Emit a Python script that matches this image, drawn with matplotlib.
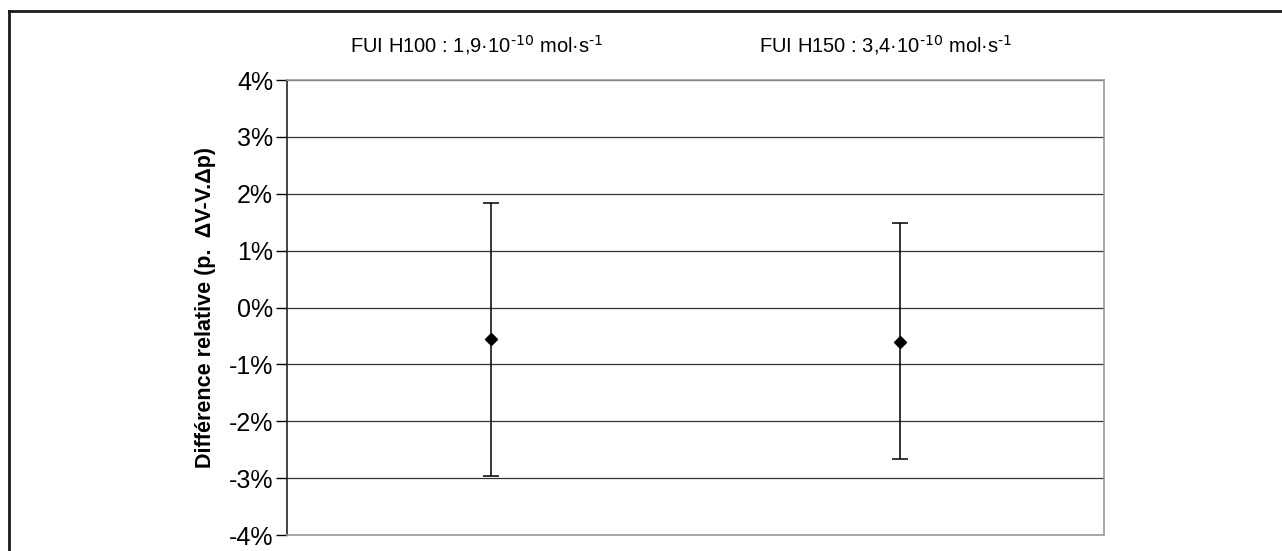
import matplotlib
matplotlib.use("Agg")
import matplotlib.pyplot as plt
from matplotlib.lines import Line2D
from matplotlib.ticker import FuncFormatter, MultipleLocator
import matplotlib.transforms as mtransforms

plt.rcParams['font.family'] = ['Liberation Sans', 'DejaVu Sans']
plt.rcParams['mathtext.default'] = 'regular'

# data (relative difference, %)
labels = [r"FUI H100 : 1,9·10$^{\text{-10}}$ mol·s$^{\text{-1}}$",
          r"FUI H150 : 3,4·10$^{\text{-10}}$ mol·s$^{\text{-1}}$"]
values = [-0.56, -0.60]
upper = [1.83, 1.48]
lower = [-2.97, -2.67]

fig = plt.figure(figsize=(12.82, 5.51), dpi=100)
ax = fig.add_axes([0.2239, 0.029, 0.861 - 0.2239, 0.8548 - 0.029])

x = list(range(len(values)))
err_lo = [v - l for v, l in zip(values, lower)]
err_hi = [u - v for v, u in zip(values, upper)]
ax.errorbar(x, values, yerr=[err_lo, err_hi], fmt='D', color='black',
            ms=6, elinewidth=1.1, capsize=6, capthick=1.1, zorder=3)

ax.set_xlim(-0.5, 1.5)
ax.set_ylim(-4, 4)
ax.yaxis.set_major_locator(MultipleLocator(1))
ax.yaxis.set_major_formatter(FuncFormatter(lambda v, p: f"{v:.0f}%"))
ax.set_xticks([])
ax.tick_params(axis='y', direction='out', length=8, width=1, labelsize=18, pad=2)
ax.grid(axis='y', color='#333333', linewidth=0.9)
ax.set_axisbelow(True)

for side in ['top', 'right', 'bottom']:
    ax.spines[side].set_color('#999999')
    ax.spines[side].set_linewidth(1.2)
ax.spines['left'].set_color('#222222')
ax.spines['left'].set_linewidth(1.2)

ax.set_ylabel("Différence relative (p.  ΔV-V.Δp)", fontsize=15.5,
              fontweight='bold', labelpad=9)

trans = mtransforms.blended_transform_factory(ax.transData, fig.transFigure)
for xi, lab in zip(x, labels):
    ax.text(xi - 0.035, 1 - 45 / 551, lab, transform=trans, ha='center',
            va='center', fontsize=14.5)

# outer frame (top and left edges visible)
fig.add_artist(Line2D([8.5 / 1282, 1.0], [1 - 10.5 / 551, 1 - 10.5 / 551],
                      transform=fig.transFigure, color='#1a1a1a', linewidth=2))
fig.add_artist(Line2D([8.5 / 1282, 8.5 / 1282], [0.0, 1 - 10.5 / 551],
                      transform=fig.transFigure, color='#1a1a1a', linewidth=2))

fig.savefig("out.png", dpi=100)
